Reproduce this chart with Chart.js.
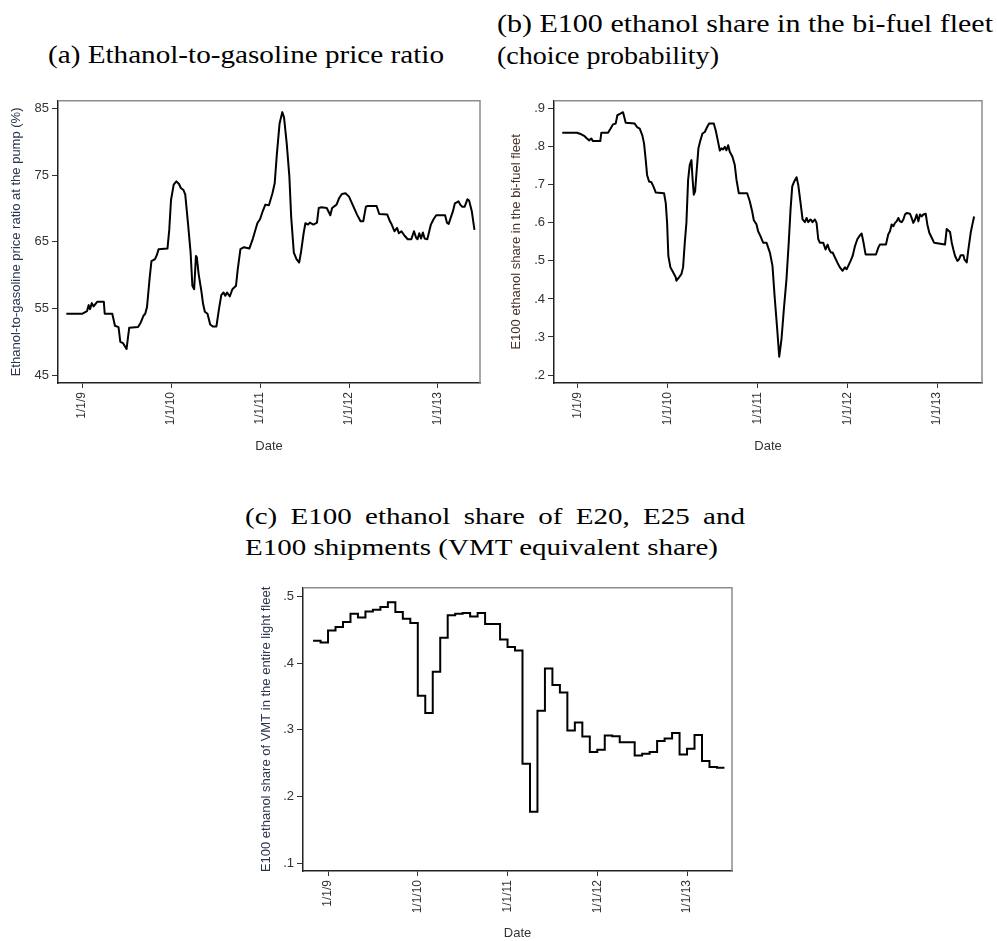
<!DOCTYPE html>
<html>
<head>
<meta charset="utf-8">
<script src="https://cdn.jsdelivr.net/npm/chart.js@4.4.1/dist/chart.umd.min.js"></script>
<style>
  body { margin: 0; background: #fff; width: 997px; height: 941px; position: relative; overflow: hidden; }
  canvas { position: absolute; }
  .title { position: absolute; white-space: nowrap; font-family: "Liberation Serif", "DejaVu Serif", serif;
           font-size: 26px; line-height: 26px; color: #000; transform-origin: 0 0; }
  .title.c { font-size: 24px; line-height: 24px; }
</style>
</head>
<body>
<div class="title" id="tA" style="left:48px; top:42px">(a) Ethanol-to-gasoline price ratio</div>
<div class="title" id="tB1" style="left:497px; top:11px">(b) E100 ethanol share in the bi-fuel fleet</div>
<div class="title" id="tB2" style="left:497px; top:43px">(choice probability)</div>
<div class="title c" id="tC1" style="left:245px; top:504px">(c) E100 ethanol share of E20, E25 and</div>
<div class="title c" id="tC2" style="left:245px; top:535px">E100 shipments (VMT equivalent share)</div>

<canvas id="chartA" width="490" height="370" style="left:0px; top:90px"></canvas>
<canvas id="chartB" width="497" height="370" style="left:500px; top:90px"></canvas>
<canvas id="chartC" width="492" height="364" style="left:250px; top:577px"></canvas>

<script>
// (a) pump price ratio, weekly-ish readings (decimal year, %)
const datesA = [2008.824, 2009.00, 2009.056, 2009.075, 2009.09, 2009.11, 2009.13, 2009.17, 2009.245, 2009.255,
  2009.34, 2009.37, 2009.41, 2009.43, 2009.46, 2009.50, 2009.53, 2009.63, 2009.66, 2009.69,
  2009.71, 2009.73, 2009.76, 2009.78, 2009.82, 2009.84, 2009.86, 2009.96, 2009.98, 2010.00,
  2010.03, 2010.06, 2010.09, 2010.11, 2010.14, 2010.16, 2010.19, 2010.22, 2010.24, 2010.26,
  2010.28, 2010.29, 2010.31, 2010.34, 2010.36, 2010.38, 2010.41, 2010.44, 2010.47, 2010.51,
  2010.54, 2010.565, 2010.59, 2010.61, 2010.63, 2010.66, 2010.69, 2010.73, 2010.75, 2010.78,
  2010.82, 2010.88, 2010.92, 2010.97, 2011.00, 2011.03, 2011.06, 2011.10, 2011.14, 2011.165,
  2011.19, 2011.22, 2011.25, 2011.27, 2011.30, 2011.33, 2011.35, 2011.38, 2011.41, 2011.44,
  2011.46, 2011.49, 2011.51, 2011.54, 2011.56, 2011.60, 2011.64, 2011.66, 2011.69, 2011.75,
  2011.79, 2011.81, 2011.86, 2011.89, 2011.92, 2011.96, 2012.00, 2012.04, 2012.09, 2012.13,
  2012.16, 2012.19, 2012.21, 2012.31, 2012.34, 2012.43, 2012.46, 2012.48, 2012.51, 2012.54,
  2012.56, 2012.59, 2012.62, 2012.66, 2012.70, 2012.73, 2012.755, 2012.77, 2012.79, 2012.81,
  2012.83, 2012.85, 2012.88, 2012.92, 2012.95, 2012.98, 2013.08, 2013.10, 2013.12, 2013.17,
  2013.19, 2013.23, 2013.25, 2013.27, 2013.30, 2013.33, 2013.35, 2013.38, 2013.40, 2013.41];
const ratioA = [54.2, 54.2, 54.6, 55.5, 54.9, 55.8, 55.3, 56.0, 56.0, 54.2,
  54.2, 52.4, 52.2, 50.0, 49.8, 48.9, 52.1, 52.2, 52.9, 53.9,
  54.2, 55.2, 59.6, 62.1, 62.4, 63.0, 63.9, 64.0, 66.8, 71.3,
  73.6, 74.1, 73.7, 73.1, 72.8, 72.1, 67.9, 63.4, 58.4, 57.9,
  62.9, 62.7, 60.2, 57.7, 55.7, 54.5, 54.2, 52.6, 52.3, 52.3,
  55.0, 57.0, 57.4, 56.9, 57.4, 56.8, 57.9, 58.4, 60.9, 63.9,
  64.2, 64.0, 65.5, 67.8, 68.4, 69.6, 70.6, 70.5, 72.3, 73.8,
  78.3, 82.8, 84.5, 83.7, 79.8, 74.8, 68.8, 63.4, 62.4, 61.9,
  63.4, 66.3, 67.8, 67.6, 67.9, 67.6, 67.9, 70.1, 70.2, 70.1,
  69.0, 70.1, 70.6, 71.6, 72.2, 72.3, 71.8, 70.6, 69.1, 68.1,
  68.1, 70.3, 70.4, 70.4, 69.2, 69.1, 68.1, 67.6, 66.6, 67.1,
  66.3, 66.6, 66.0, 65.4, 65.4, 66.6, 65.6, 65.4, 66.3, 65.5,
  66.4, 65.5, 65.4, 67.6, 68.4, 69.0, 69.0, 67.9, 67.7, 69.7,
  70.8, 71.1, 70.6, 70.3, 70.3, 71.4, 71.2, 69.6, 67.7, 66.8];

// (b) E100 share in the bi-fuel fleet
const datesB = [2008.825, 2008.989, 2009.037, 2009.074, 2009.10, 2009.123, 2009.149, 2009.167, 2009.249, 2009.26,
  2009.335, 2009.364, 2009.39, 2009.42, 2009.439, 2009.472, 2009.502, 2009.532, 2009.632, 2009.658,
  2009.688, 2009.717, 2009.736, 2009.755, 2009.77, 2009.792, 2009.818, 2009.844, 2009.866, 2009.959,
  2009.978, 2009.993, 2010.007, 2010.03, 2010.06, 2010.089, 2010.097, 2010.126, 2010.152, 2010.171,
  2010.19, 2010.208, 2010.227, 2010.245, 2010.264, 2010.275, 2010.29, 2010.305, 2010.32, 2010.342,
  2010.364, 2010.387, 2010.413, 2010.439, 2010.461, 2010.513, 2010.535, 2010.561, 2010.58, 2010.599,
  2010.617, 2010.636, 2010.654, 2010.673, 2010.691, 2010.721, 2010.747, 2010.766, 2010.792, 2010.885,
  2010.914, 2010.941, 2010.959, 2010.989, 2011.007, 2011.033, 2011.063, 2011.10, 2011.138, 2011.167,
  2011.19, 2011.219, 2011.242, 2011.268, 2011.294, 2011.323, 2011.349, 2011.368, 2011.387, 2011.409,
  2011.435, 2011.454, 2011.48, 2011.502, 2011.528, 2011.547, 2011.565, 2011.591, 2011.613, 2011.639,
  2011.658, 2011.677, 2011.695, 2011.732, 2011.758, 2011.781, 2011.799, 2011.818, 2011.837, 2011.863,
  2011.889, 2011.918, 2011.948, 2011.974, 2011.993, 2012.011, 2012.037, 2012.06, 2012.086, 2012.112,
  2012.141, 2012.16, 2012.178, 2012.204, 2012.32, 2012.346, 2012.364, 2012.431, 2012.457, 2012.476,
  2012.494, 2012.513, 2012.532, 2012.55, 2012.569, 2012.587, 2012.606, 2012.625, 2012.643, 2012.662,
  2012.699, 2012.717, 2012.736, 2012.755, 2012.773, 2012.792, 2012.81, 2012.829, 2012.848, 2012.874,
  2012.892, 2012.914, 2012.941, 2012.967, 2013.089, 2013.108, 2013.126, 2013.145, 2013.164, 2013.182,
  2013.201, 2013.227, 2013.245, 2013.264, 2013.294, 2013.305, 2013.331, 2013.349, 2013.375, 2013.394,
  2013.413];
const shareB = [0.837, 0.837, 0.833, 0.828, 0.822, 0.817, 0.822, 0.815, 0.815, 0.837,
  0.837, 0.848, 0.859, 0.861, 0.883, 0.887, 0.891, 0.863, 0.861, 0.852,
  0.848, 0.830, 0.809, 0.765, 0.726, 0.709, 0.707, 0.694, 0.680, 0.678,
  0.652, 0.600, 0.513, 0.483, 0.470, 0.457, 0.448, 0.457, 0.465, 0.483,
  0.548, 0.600, 0.713, 0.752, 0.765, 0.722, 0.674, 0.683, 0.730, 0.796,
  0.817, 0.835, 0.839, 0.852, 0.861, 0.861, 0.843, 0.813, 0.790, 0.796,
  0.793, 0.800, 0.791, 0.804, 0.787, 0.774, 0.752, 0.713, 0.678, 0.678,
  0.657, 0.630, 0.607, 0.596, 0.578, 0.565, 0.548, 0.548, 0.522, 0.487,
  0.409, 0.322, 0.248, 0.296, 0.374, 0.452, 0.552, 0.635, 0.696, 0.709,
  0.720, 0.700, 0.652, 0.609, 0.602, 0.613, 0.602, 0.609, 0.602, 0.609,
  0.600, 0.557, 0.548, 0.548, 0.530, 0.543, 0.530, 0.522, 0.522, 0.509,
  0.496, 0.483, 0.474, 0.483, 0.478, 0.487, 0.500, 0.513, 0.539, 0.557,
  0.567, 0.572, 0.552, 0.517, 0.517, 0.535, 0.543, 0.543, 0.570, 0.578,
  0.596, 0.591, 0.600, 0.604, 0.613, 0.604, 0.602, 0.609, 0.622, 0.626,
  0.624, 0.613, 0.600, 0.609, 0.622, 0.604, 0.622, 0.617, 0.622, 0.624,
  0.596, 0.574, 0.561, 0.548, 0.543, 0.584, 0.580, 0.576, 0.548, 0.530,
  0.513, 0.500, 0.504, 0.515, 0.515, 0.504, 0.496, 0.530, 0.574, 0.596,
  0.617];

// (c) monthly VMT-equivalent share, Nov 2008 .. Jun 2013
const monthsC = ['2008-11', '2008-12',
  '2009-01', '2009-02', '2009-03', '2009-04', '2009-05', '2009-06', '2009-07', '2009-08', '2009-09', '2009-10', '2009-11', '2009-12',
  '2010-01', '2010-02', '2010-03', '2010-04', '2010-05', '2010-06', '2010-07', '2010-08', '2010-09', '2010-10', '2010-11', '2010-12',
  '2011-01', '2011-02', '2011-03', '2011-04', '2011-05', '2011-06', '2011-07', '2011-08', '2011-09', '2011-10', '2011-11', '2011-12',
  '2012-01', '2012-02', '2012-03', '2012-04', '2012-05', '2012-06', '2012-07', '2012-08', '2012-09', '2012-10', '2012-11', '2012-12',
  '2013-01', '2013-02', '2013-03', '2013-04', '2013-05', '2013-06'];
const shareC = [0.4335, 0.431,
  0.449, 0.454, 0.4615, 0.474, 0.4685, 0.4775, 0.480, 0.484, 0.4915, 0.4767, 0.4667, 0.4602,
  0.351, 0.325, 0.387, 0.438, 0.4717, 0.474, 0.475, 0.470, 0.475, 0.4588, 0.4588, 0.4354,
  0.424, 0.419, 0.249, 0.177, 0.3286, 0.392, 0.367, 0.356, 0.2988, 0.311, 0.290, 0.2665,
  0.270, 0.2913, 0.2901, 0.2814, 0.2814, 0.2615, 0.264, 0.2665, 0.283, 0.287, 0.295, 0.263,
  0.2714, 0.292, 0.253, 0.244, 0.243, 0.243];

const yearTicks = [2009, 2010, 2011, 2012, 2013];
const yTicksA = [45, 55, 65, 75, 85];
const yTicksB = [0.2, 0.3, 0.4, 0.5, 0.6, 0.7, 0.8, 0.9];
const yTicksC = [0.1, 0.2, 0.3, 0.4, 0.5];

const sans = '"Liberation Sans", Arial, sans-serif';
const dark = '#333333';

function monthToYear(m) {
  const [y, mo] = m.split('-').map(Number);
  return y + (mo - 1) / 12;
}

function dropZero(v) {
  return v.toFixed(1).replace(/^0/, '');
}

// grey top/right frame around the plot region
const frame = {
  id: 'frame',
  beforeDatasetsDraw(chart) {
    const { ctx, chartArea: a } = chart;
    ctx.save();
    ctx.strokeStyle = '#8c8c8c';
    ctx.lineWidth = 1.5;
    ctx.beginPath();
    ctx.moveTo(a.left, a.top);
    ctx.lineTo(a.right, a.top);
    ctx.lineTo(a.right, a.bottom);
    ctx.stroke();
    ctx.restore();
  }
};

// vertical date labels reading bottom-to-top
const dateLabels = {
  id: 'dateLabels',
  afterDraw(chart) {
    const { ctx } = chart;
    const s = chart.scales.x;
    ctx.save();
    ctx.font = '12px ' + sans;
    ctx.fillStyle = dark;
    ctx.textAlign = 'right';
    ctx.textBaseline = 'middle';
    s.ticks.forEach(t => {
      const x = s.getPixelForValue(t.value);
      ctx.save();
      ctx.translate(x, s.top + 9);
      ctx.rotate(-Math.PI / 2);
      ctx.fillText('1/1/' + (t.value - 2000), 0, 0);
      ctx.restore();
    });
    ctx.restore();
  }
};

function makeChart(id, o) {
  const points = o.xs.map((x, i) => ({ x: x, y: o.ys[i] }));
  return new Chart(document.getElementById(id), {
    type: 'line',
    data: {
      datasets: [{
        data: points,
        borderColor: '#000',
        borderWidth: 2,
        borderJoinStyle: o.stepped ? 'miter' : 'round',
        pointRadius: 0,
        tension: 0,
        stepped: o.stepped || false
      }]
    },
    options: {
      responsive: false,
      animation: false,
      devicePixelRatio: 1,
      layout: { padding: { top: 9, right: o.padRight, left: 0, bottom: 0 } },
      plugins: { legend: { display: false }, tooltip: { enabled: false } },
      scales: {
        x: {
          type: 'linear',
          min: o.xMin,
          max: o.xMax,
          afterBuildTicks: s => { s.ticks = yearTicks.map(v => ({ value: v })); },
          afterFit: s => { s.height = o.xAxisHeight; },
          ticks: { display: false },
          grid: { drawOnChartArea: false, drawTicks: true, tickLength: 5, color: dark, lineWidth: 1 },
          border: { display: true, color: '#222', width: 1.5 },
          title: { display: true, text: 'Date', color: dark, font: { family: sans, size: 13 },
                   padding: { top: 0, bottom: o.datePad } }
        },
        y: {
          min: o.yMin,
          max: o.yMax,
          afterBuildTicks: s => { s.ticks = o.yTicks.map(v => ({ value: v })); },
          afterFit: s => { s.width = o.yAxisWidth; },
          ticks: { color: dark, font: { family: sans, size: 13 }, padding: 3, callback: o.fmt },
          grid: { drawOnChartArea: false, drawTicks: true, tickLength: 6, color: dark, lineWidth: 1 },
          border: { display: true, color: '#222', width: 1.5 },
          title: { display: true, text: o.yTitle, color: o.yTitleColor, font: { family: sans, size: 13 },
                   padding: { top: 9, bottom: 0 } }
        }
      }
    },
    plugins: [frame, dateLabels]
  });
}

makeChart('chartA', {
  xs: datesA, ys: ratioA, xMin: 2008.730, xMax: 2013.472,
  yMin: 43.8, yMax: 86.2, yTicks: yTicksA, fmt: v => String(v),
  yTitle: 'Ethanol-to-gasoline price ratio at the pump (%)', yTitleColor: '#2c3550',
  yAxisWidth: 58, padRight: 10, xAxisHeight: 77, datePad: 6
});

makeChart('chartB', {
  xs: datesB, ys: shareB, xMin: 2008.733, xMax: 2013.501,
  yMin: 0.179, yMax: 0.921, yTicks: yTicksB, fmt: dropZero,
  yTitle: 'E100 ethanol share in the bi-fuel fleet', yTitleColor: '#4a3228',
  yAxisWidth: 54, padRight: 15, xAxisHeight: 77, datePad: 6
});

makeChart('chartC', {
  xs: monthsC.map(monthToYear), ys: shareC, stepped: true, xMin: 2008.721, xMax: 2013.501,
  yMin: 0.088, yMax: 0.513, yTicks: yTicksC, fmt: dropZero,
  yTitle: 'E100 ethanol share of VMT in the entire light fleet', yTitleColor: '#2c3550',
  yAxisWidth: 53, padRight: 10, xAxisHeight: 70, datePad: 0
});

// stretch title lines to their set widths
function fitWidth(id, width) {
  const el = document.getElementById(id);
  const w = el.getBoundingClientRect().width;
  el.style.transform = 'scaleX(' + (width / w) + ')';
  return width / w;
}
fitWidth('tA', 396);
fitWidth('tB1', 496);
fitWidth('tB2', 222);
const k = fitWidth('tC2', 473);
(function () {
  const el = document.getElementById('tC1');
  el.style.transform = 'scaleX(' + k + ')';
  const w = el.getBoundingClientRect().width / k;
  const gaps = el.textContent.split(' ').length - 1;
  el.style.wordSpacing = ((500 / k - w) / gaps) + 'px';
})();
</script>
</body>
</html>
